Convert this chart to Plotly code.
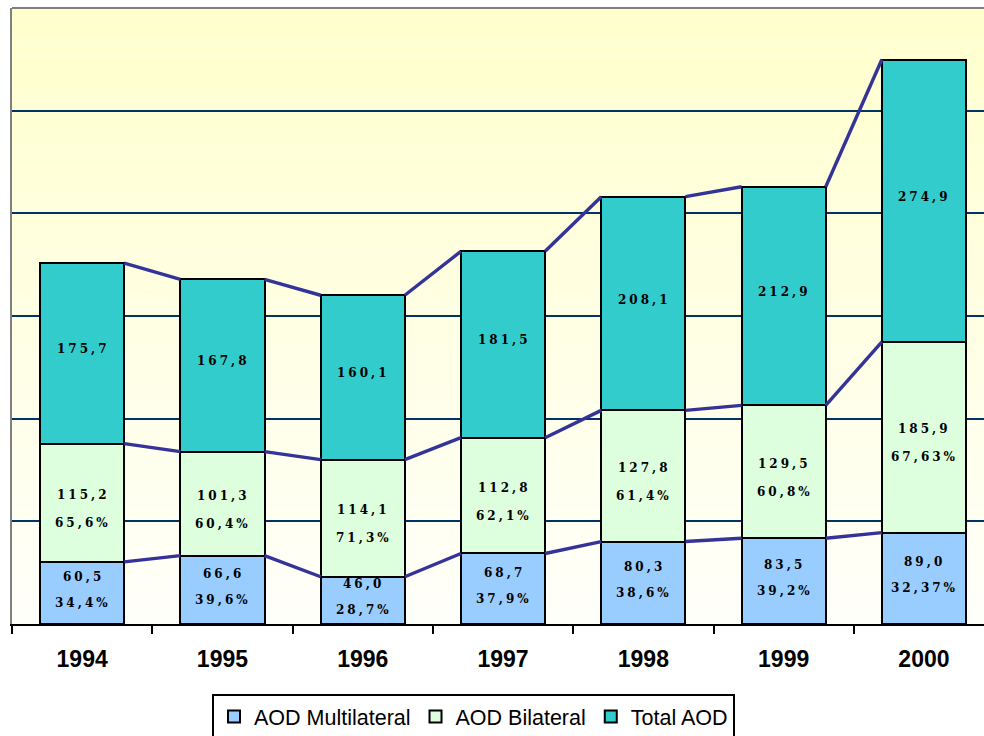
import plotly.graph_objects as go

years = ["1994", "1995", "1996", "1997", "1998", "1999", "2000"]
multilateral = [60.5, 66.6, 46.0, 68.7, 80.3, 83.5, 89.0]
bilateral = [115.2, 101.3, 114.1, 112.8, 127.8, 129.5, 185.9]
total = [175.7, 167.8, 160.1, 181.5, 208.1, 212.9, 274.9]
multi_pct = ["34,4%", "39,6%", "28,7%", "37,9%", "38,6%", "39,2%", "32,37%"]
bil_pct = ["65,6%", "60,4%", "71,3%", "62,1%", "61,4%", "60,8%", "67,63%"]

names = ["AOD Multilateral", "AOD Bilateral", "Total AOD"]
colors = ["#99CCFF", "#DDFFDD", "#33CCCC"]
BAR_W = 0.6

xs = list(range(len(years)))

def fmt(v):
    return f"{v:.1f}".replace(".", ",")

fig = go.Figure()
series = [multilateral, bilateral, total]
for vals, name, col in zip(series, names, colors):
    fig.add_trace(go.Bar(
        x=xs, y=vals, name=name, width=BAR_W,
        marker=dict(color=col, line=dict(color="black", width=2)),
        hoverinfo="skip",
    ))

# cumulative levels for series lines
levels = []
acc = [0.0] * len(years)
for vals in series:
    acc = [a + v for a, v in zip(acc, vals)]
    levels.append(list(acc))

for lev in levels:
    lx, ly = [], []
    for i in range(len(years) - 1):
        lx += [xs[i] + BAR_W / 2, xs[i + 1] - BAR_W / 2, None]
        ly += [lev[i], lev[i + 1], None]
    fig.add_trace(go.Scatter(
        x=lx, y=ly, mode="lines", line=dict(color="#333399", width=3.4),
        showlegend=False, hoverinfo="skip",
    ))

# data labels
lab_font = dict(family="DejaVu Serif, serif", size=12, color="black", weight="bold")

def spaced(s):
    return f'<span style="letter-spacing:3px">{s}</span>'

annotations = []
for i in range(len(years)):
    m_c = multilateral[i] / 2
    b_c = multilateral[i] + bilateral[i] / 2
    t_c = multilateral[i] + bilateral[i] + total[i] / 2
    items = [
        (m_c, fmt(multilateral[i]), 16),
        (m_c, multi_pct[i], -10),
        (b_c, fmt(bilateral[i]), 8),
        (b_c, bil_pct[i], -20),
        (t_c, fmt(total[i]), 4),
    ]
    for yv, txt, sh in items:
        annotations.append(dict(
            x=xs[i], y=yv, xref="x", yref="y", text=spaced(txt),
            showarrow=False, yshift=sh, xshift=1, font=lab_font,
        ))

# background gradient (light yellow at top to near white at bottom)
shapes = []
n = 80
top = (255, 255, 204)
bot = (255, 255, 250)
for k in range(n):
    t = (k + 0.5) / n
    c = tuple(round(bot[j] + (top[j] - bot[j]) * t) for j in range(3))
    shapes.append(dict(
        type="rect", xref="paper", yref="paper", x0=0, x1=1,
        y0=k / n, y1=(k + 1) / n, fillcolor=f"rgb{c}", line=dict(width=0),
        layer="below",
    ))
shapes.append(dict(type="line", xref="paper", yref="paper", x0=0, x1=1, y0=1, y1=1,
                   line=dict(color="#808080", width=2), layer="above"))

fig.update_layout(
    width=984, height=736,
    margin=dict(l=12, r=0, t=8, b=112, autoexpand=False),
    barmode="stack",
    paper_bgcolor="white", plot_bgcolor="white",
    shapes=shapes, annotations=annotations,
    showlegend=True,
    legend=dict(
        orientation="h", x=0.4748, xanchor="center", y=-0.1136, yanchor="top",
        bgcolor="white", bordercolor="black", borderwidth=2,
        font=dict(family="Liberation Sans, Arial, sans-serif", size=21.5, color="black"),
        traceorder="normal", itemwidth=30,
    ),
    xaxis=dict(
        range=[-0.5, 6.428], tickmode="array", tickvals=xs, ticktext=years,
        ticks="", showgrid=False, zeroline=False,
        showline=True, linecolor="black", linewidth=2,
        tickfont=dict(family="Liberation Sans, Arial, sans-serif", size=23, color="black", weight="bold"),
        ticklabelstandoff=13,
        minor=dict(tickmode="array", tickvals=[i - 0.5 for i in xs], ticks="outside",
                   ticklen=8, tickwidth=2, tickcolor="black", showgrid=False),
        fixedrange=True,
    ),
    yaxis=dict(
        range=[0, 600], dtick=100, showgrid=True, gridcolor="#003366", gridwidth=2,
        showticklabels=False, ticks="", zeroline=False,
        showline=True, linecolor="#808080", linewidth=2, fixedrange=True,
    ),
)

fig.write_html(
    "out.html",
    config={"displayModeBar": False},
    post_script="document.body.style.margin='0';document.body.style.overflow='hidden';",
)
